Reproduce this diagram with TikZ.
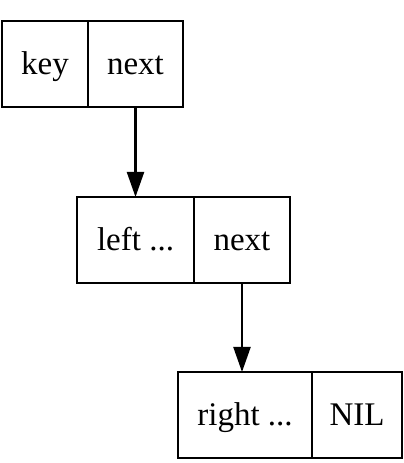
\documentclass[tikz,border=0pt]{standalone}
\usepackage{fontspec}
\setmainfont{Liberation Serif}
\usetikzlibrary{positioning,arrows.meta}
\begin{document}
\begin{tikzpicture}[x=1pt,y=1pt,->,>={Triangle[length=25pt,width=17pt]},line width=2.2pt,
  cell/.style={rectangle,draw,inner sep=0pt,outer sep=0pt,minimum height=86pt,text height=22pt,text depth=0pt,font=\fontsize{33}{36}\selectfont,line width=2.2pt}]
  \useasboundingbox (0,0) rectangle (404,463);
  % first record
  \node[cell,minimum width=86pt,anchor=south west] (1k) at (2,356) {key};
  \node[cell,minimum width=95pt,right=0pt of 1k] (1n) {next};
  % second record
  \node[cell,minimum width=117pt,anchor=south west] (2l) at (77,180) {left ...};
  \node[cell,minimum width=96pt,right=0pt of 2l] (2n) {next};
  % third record
  \node[cell,minimum width=134pt,anchor=south west] (3r) at (178,5) {right ...};
  \node[cell,minimum width=90pt,right=0pt of 3r] (3n) {NIL};
  \draw (1n.south) -- (1n.south |- 2l.north);
  \draw (2n.south) -- (2n.south |- 3r.north);
\end{tikzpicture}
\end{document}
